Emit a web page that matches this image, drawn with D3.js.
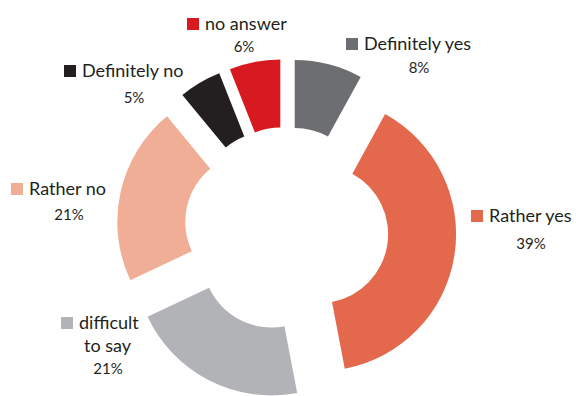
<!DOCTYPE html>
<html>
<head>
<meta charset="utf-8">
<script src="https://cdn.jsdelivr.net/npm/d3@7"></script>
<style>
  html, body { margin: 0; padding: 0; background: #ffffff; }
  svg { display: block; }
  text { font-family: Lato, "Open Sans", sans-serif; fill: #231f20; }
</style>
</head>
<body>
<svg id="chart" width="576" height="396"></svg>
<script>
// ---- data (clockwise from 12 o'clock) ----
const categories = ["Definitely yes", "Rather yes", "difficult to say", "Rather no", "Definitely no", "no answer"];
const values = [8, 39, 21, 21, 5, 6];
const labelLines = [["Definitely yes"], ["Rather yes"], ["difficult", "to say"], ["Rather no"], ["Definitely no"], ["no answer"]];
const colors = ["#6d6e71", "#e3684c", "#b2b3b6", "#f0ae97", "#231f20", "#d71920"];

// ---- layout (not data) ----
const W = 576, H = 396;
const cx = 286.5, cy = 229;
const outerR = 137, innerR = 69, explode = 33;
// legend square left x, first-line baseline y, percent centre x, percent baseline y
const labelLayout = [
  { sx: 346, by: 50,  px: 419, py: 73 },
  { sx: 471, by: 222, px: 531, py: 249 },
  { sx: 61,  by: 329, px: 108, py: 374, line2x: 107.5, line2y: 352 },
  { sx: 11,  by: 195, px: 69,  py: 220 },
  { sx: 64,  by: 77,  px: 134, py: 103 },
  { sx: 187, by: 30,  px: 244, py: 52 }
];

const svg = d3.select("#chart");
const data = categories.map((c, i) => ({ name: c, value: values[i], color: colors[i], lines: labelLines[i], layout: labelLayout[i] }));

const pie = d3.pie().value(d => d.value).sort(null).startAngle(0).endAngle(2 * Math.PI);
const arc = d3.arc().innerRadius(innerR).outerRadius(outerR);
const arcs = pie(data);

const g = svg.append("g").attr("transform", `translate(${cx},${cy})`);
g.selectAll("path.slice")
  .data(arcs)
  .join("path")
  .attr("class", "slice")
  .attr("fill", d => d.data.color)
  .attr("transform", d => {
    const mid = (d.startAngle + d.endAngle) / 2;
    return `translate(${explode * Math.sin(mid)},${-explode * Math.cos(mid)})`;
  })
  .attr("d", arc);

// ---- labels ----
const fmt = d => d3.format(".0f")(d) + "%";
const lab = svg.append("g");
data.forEach(d => {
  const L = d.layout;
  lab.append("rect")
    .attr("x", L.sx).attr("y", L.by - 12)
    .attr("width", 12).attr("height", 12)
    .attr("fill", d.color);
  lab.append("text")
    .attr("x", L.sx + 18).attr("y", L.by)
    .style("font-size", "18px")
    .text(d.lines[0]);
  if (d.lines.length > 1) {
    lab.append("text")
      .attr("x", L.line2x).attr("y", L.line2y)
      .attr("text-anchor", "middle")
      .style("font-size", "18px")
      .text(d.lines[1]);
  }
  lab.append("text")
    .attr("x", L.px).attr("y", L.py)
    .attr("text-anchor", "middle")
    .style("font-size", "15px")
    .text(fmt(d.value));
});
</script>
</body>
</html>
